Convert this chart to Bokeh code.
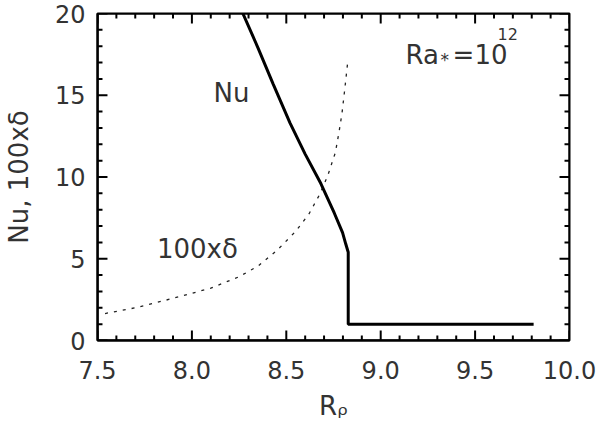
import numpy as np
from bokeh.plotting import figure
from bokeh.models import Range1d, SingleIntervalTicker
from bokeh.core.properties import value
from bokeh.embed import file_html
from bokeh.resources import INLINE

# ---- data ----
nu_x = [8.27, 8.35, 8.43, 8.52, 8.60, 8.683, 8.754, 8.798, 8.815, 8.828, 8.828, 9.81]
nu_y = [20.0, 17.9, 15.7, 13.3, 11.4, 9.6, 7.8, 6.6, 5.9, 5.4, 1.0, 1.0]

delta_x = [7.54, 7.70, 7.85, 7.95, 8.10, 8.25, 8.35, 8.45, 8.55, 8.62, 8.68,
           8.72, 8.76, 8.78, 8.795, 8.81, 8.825]
delta_y = [1.65, 2.0, 2.43, 2.73, 3.2, 3.9, 4.55, 5.5, 6.68, 7.74, 9.0,
           10.1, 11.5, 12.8, 13.9, 15.4, 17.0]

x_ticks = [7.5, 8.0, 8.5, 9.0, 9.5, 10.0]
x_tick_labels = ["7.5", "8.0", "8.5", "9.0", "9.5", "10.0"]
y_ticks = [0, 5, 10, 15, 20]
y_tick_labels = ["0", "5", "10", "15", "20"]

X_MIN, X_MAX = 7.5, 10.0
Y_MIN, Y_MAX = 0, 20
X_MINOR_STEP, Y_MINOR_STEP = 0.1, 1

FONT = "DejaVu Sans"
TXT = "#333333"

W, H = 600, 432
BL, BR, BT, BB = 96, 31, 13, 92
FW, FH = W - BL - BR, H - BT - BB   # frame size in px

p = figure(width=W, height=H, output_backend="svg", toolbar_location=None,
           x_range=Range1d(X_MIN, X_MAX), y_range=Range1d(Y_MIN, Y_MAX),
           min_border_left=BL, min_border_right=BR, min_border_top=BT,
           min_border_bottom=BB)
p.background_fill_color = None
p.border_fill_color = None
p.xgrid.visible = False
p.ygrid.visible = False
p.outline_line_color = "black"
p.outline_line_width = 2

xa = p.xaxis[0]
xa.ticker = SingleIntervalTicker(interval=0.5, num_minor_ticks=5)
xa.major_label_overrides = dict(zip(x_ticks, x_tick_labels))
xa.axis_label = "R\u1d68"
ya = p.yaxis[0]
ya.ticker = SingleIntervalTicker(interval=5, num_minor_ticks=5)
ya.major_label_overrides = dict(zip(y_ticks, y_tick_labels))
ya.axis_label = "Nu, 100x\u03b4"
for ax in (xa, ya):
    ax.axis_line_color = "black"
    ax.axis_line_width = 2
    ax.major_tick_in = 0
    ax.major_tick_out = 0
    ax.minor_tick_in = 0
    ax.minor_tick_out = 0
    ax.major_label_text_font = FONT
    ax.major_label_text_font_size = "24px"
    ax.major_label_text_color = TXT
    ax.axis_label_text_font = FONT
    ax.axis_label_text_font_size = "26px"
    ax.axis_label_text_color = TXT
    ax.axis_label_text_font_style = "normal"
xa.major_label_standoff = 20
xa.axis_label_standoff = 9
ya.major_label_standoff = 12
ya.axis_label_standoff = 18

# inward ticks on all four frame edges, drawn as one continuous "comb" line per edge
x_all = sorted(set([float(v) for v in np.round(np.arange(X_MIN, X_MAX + 1e-9, X_MINOR_STEP), 3)]))
y_all = sorted(set([float(v) for v in np.arange(Y_MIN, Y_MAX + 1e-9, Y_MINOR_STEP)]))
dx = (X_MAX - X_MIN) / FW   # data units per px
dy = (Y_MAX - Y_MIN) / FH

def tick_len(v, majors):
    return 10 if any(abs(v - t) < 1e-6 for t in majors) else 5

def comb_x(edge, sign):
    xs, ys = [], []
    for v in x_all:
        L = tick_len(v, x_ticks)
        xs += [v, v, v]
        ys += [edge, edge + sign * L * dy, edge]
    return xs, ys

def comb_y(edge, sign):
    xs, ys = [], []
    for v in y_all:
        L = tick_len(v, y_ticks)
        ys += [v, v, v]
        xs += [edge, edge + sign * L * dx, edge]
    return xs, ys

for cx, cy in (comb_x(Y_MIN, 1), comb_x(Y_MAX, -1), comb_y(X_MIN, 1), comb_y(X_MAX, -1)):
    p.line(cx, cy, line_color="black", line_width=2, line_join="bevel")

# curves
p.line(delta_x, delta_y, line_color="#222222", line_width=1.3, line_dash="3 6")
p.line(nu_x, nu_y, line_color="black", line_width=3)

# annotations
def txt(x, y, s, size, xo=0, yo=0):
    p.text(x=[x], y=[y], text=[s], text_font=value(FONT), text_font_size=size,
           text_color=TXT, text_align="left", text_baseline="alphabetic",
           x_offset=xo, y_offset=yo - 10)

txt(8.115, 14.5, "Nu", "26px")
txt(7.815, 5.0, "100x\u03b4", "26px")
# Ra_* = 10^12
txt(9.132, 16.82, "Ra", "26px")
txt(9.132, 16.82, "*", "17px", xo=35, yo=5)
txt(9.132, 16.82, "=10", "26px", xo=47)
txt(9.132, 16.82, "12", "16px", xo=92, yo=-21)

open("out.html", "w").write(file_html(p, INLINE))
